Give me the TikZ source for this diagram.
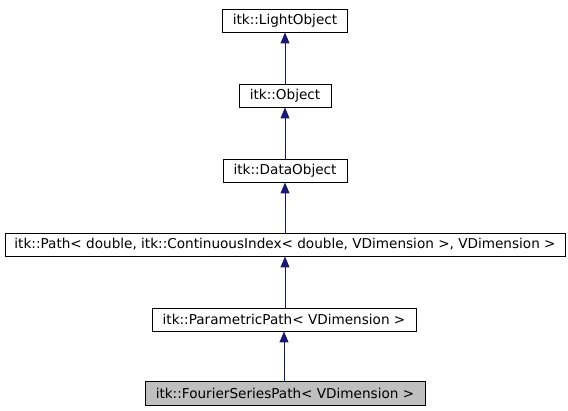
\documentclass[tikz,border=0pt]{standalone}
\usepackage{fontspec}
\setmainfont{DejaVu Sans}
\usetikzlibrary{arrows.meta}
\definecolor{edgeblue}{HTML}{191970}
\definecolor{hilite}{HTML}{BFBFBF}
\begin{document}
\begin{tikzpicture}[x=1pt,y=-1pt,
  box/.style={draw=black, line width=0.9pt, fill=white, inner sep=0pt, font=\fontsize{13.6}{16}\selectfont, text=black},
  arr/.style={draw=edgeblue, line width=0.9pt, -{Triangle[length=11pt,width=9pt]}}]
\useasboundingbox (0,0) rectangle (568,411);
\node[box, minimum width=125pt, minimum height=23pt] (lo) at (285,20.5) {itk::LightObject};
\node[box, minimum width=92pt, minimum height=23pt] (ob) at (285,95.5) {itk::Object};
\node[box, minimum width=124pt, minimum height=23pt] (do) at (285,170.5) {itk::DataObject};
\node[box, minimum width=560pt, minimum height=23pt] (pa) at (285,244.5) {itk::Path< double, itk::ContinuousIndex< double, VDimension >, VDimension >};
\node[box, minimum width=264pt, minimum height=23pt] (pp) at (284,319.5) {itk::ParametricPath< VDimension >};
\node[box, fill=hilite, minimum width=280pt, minimum height=24pt] (fs) at (285,393) {itk::FourierSeriesPath< VDimension >};
\draw[arr] (ob.north) -- (lo.south);
\draw[arr] (do.north) -- (ob.south);
\draw[arr] (pa.north -| do.south) -- (do.south);
\draw[arr] (pp.north -| pa.south) -- (pa.south);
\draw[arr] (fs.north -| pp.south) -- (pp.south);
\end{tikzpicture}
\end{document}
